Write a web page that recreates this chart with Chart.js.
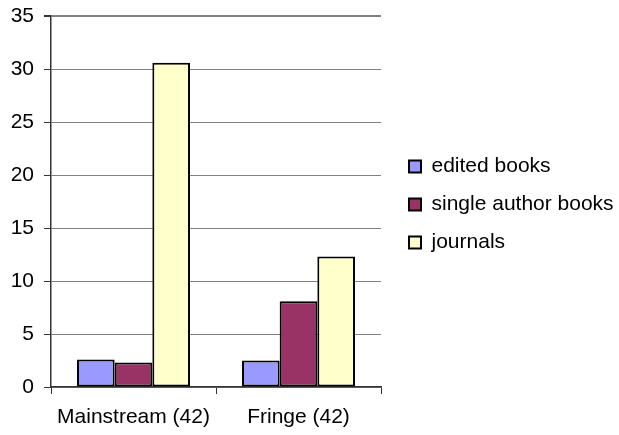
<!DOCTYPE html>
<html>
<head>
<meta charset="utf-8">
<script src="https://cdn.jsdelivr.net/npm/chart.js@4/dist/chart.umd.min.js"></script>
<style>
  html, body { margin: 0; padding: 0; background: #ffffff; }
  #wrap { width: 619px; height: 435px; }
</style>
</head>
<body>
<div id="wrap"><canvas id="c" width="619" height="435"></canvas></div>
<script>
// Publication types per group
const categories = ['Mainstream (42)', 'Fringe (42)'];
const seriesNames = ['edited books', 'single author books', 'journals'];
const editedBooks = [2.6, 2.5];
const singleAuthorBooks = [2.3, 8.1];
const journals = [30.6, 12.3];
const yTicks = [0, 5, 10, 15, 20, 25, 30, 35];

const FONT = "'Liberation Sans', Arial, sans-serif";
const seriesColors = ['#9999FF', '#993366', '#FFFFCC'];
const seriesValues = [editedBooks, singleAuthorBooks, journals];
const LEGEND_WIDTH = 227;
const LEGEND_SHIFT_Y = 3;

const datasets = seriesNames.map((name, i) => ({
  label: name,
  data: seriesValues[i],
  backgroundColor: seriesColors[i],
  borderColor: '#000000',
  borderWidth: 2,
  borderSkipped: false,
  barPercentage: 1.0,
  categoryPercentage: 0.685
}));

// Give the side legend a fixed width wide enough for its longest label,
// instead of the default half-of-canvas share per side box,
// and nudge it slightly below the plot's vertical centre.
const wideLegend = {
  id: 'wideLegend',
  beforeLayout(chart) {
    const lg = chart.legend;
    if (lg && !lg._wideFit) {
      const baseFit = lg.fit.bind(lg);
      lg.fit = function () {
        this.maxWidth = Math.max(this.maxWidth, 300);
        baseFit();
        this.width = LEGEND_WIDTH;
      };
      lg._wideFit = true;
    }
  },
  afterLayout(chart) {
    const lg = chart.legend;
    if (lg) {
      lg.top += LEGEND_SHIFT_Y;
      lg.bottom += LEGEND_SHIFT_Y;
    }
  }
};

new Chart(document.getElementById('c'), {
  type: 'bar',
  data: { labels: categories, datasets },
  plugins: [wideLegend],
  options: {
    responsive: false,
    animation: false,
    devicePixelRatio: 1,
    layout: { padding: { top: 16, right: 0, bottom: 0, left: 0 } },
    scales: {
      x: {
        offset: true,
        grid: {
          offset: true,
          drawOnChartArea: true,
          color: (ctx) => ctx.index === categories.length ? '#808080' : 'rgba(0,0,0,0)',
          lineWidth: (ctx) => ctx.index === categories.length ? 2 : 1,
          tickColor: '#333333',
          tickLength: 7,
          tickWidth: 1
        },
        border: { display: true, color: '#333333', width: 1.5 },
        ticks: {
          color: '#000000',
          font: { family: FONT, size: 21 },
          padding: 11,
          maxRotation: 0
        },
        afterFit: (scale) => { scale.height = 48; }
      },
      y: {
        min: 0,
        max: 35,
        afterBuildTicks: (scale) => { scale.ticks = yTicks.map(v => ({ value: v })); },
        grid: {
          color: '#808080',
          lineWidth: (ctx) => ctx.tick && ctx.tick.value === 35 ? 2 : 1,
          tickColor: '#333333',
          tickLength: 7
        },
        border: { display: true, color: '#333333', width: 1.5 },
        ticks: {
          color: '#000000',
          font: { family: FONT, size: 21 },
          padding: 10
        },
        afterFit: (scale) => {
          scale.width = 51;
          scale.paddingTop = 0;
          scale.paddingBottom = 0;
        }
      },
      gap: {
        position: 'right',
        display: true,
        grid: { display: false },
        border: { display: false },
        ticks: { display: false },
        afterFit: (scale) => { scale.width = 11; }
      }
    },
    plugins: {
      legend: {
        position: 'right',
        fullSize: false,
        align: 'center',
        labels: {
          boxWidth: 12,
          boxHeight: 12,
          padding: 17,
          color: '#000000',
          font: { family: FONT, size: 21 }
        }
      },
      tooltip: { enabled: false }
    }
  }
});
</script>
</body>
</html>
